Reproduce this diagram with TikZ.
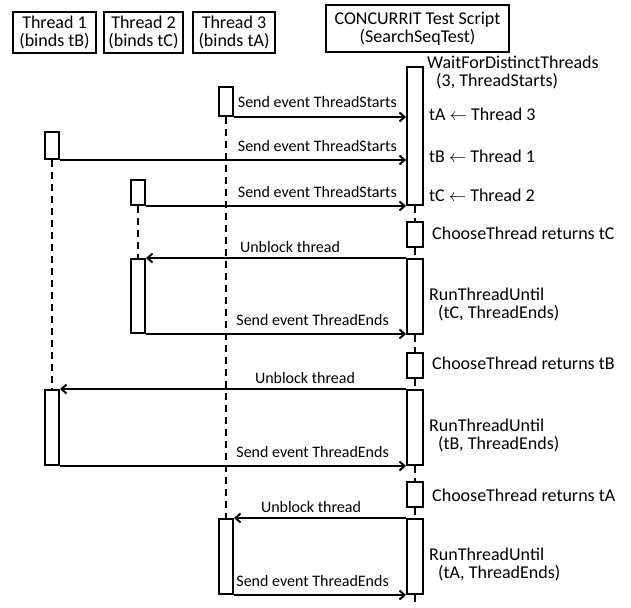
\documentclass[tikz,border=0pt]{standalone}
\usepackage{fontspec}
\setmainfont{Carlito}
\usetikzlibrary{arrows.meta, positioning}

\begin{document}
\begin{tikzpicture}[x=1pt, y=-1pt,
  head/.style={draw, line width=2pt, align=center, inner sep=0pt,
    font=\fontsize{18}{18}\selectfont},
  act/.style={draw, fill=white, line width=2pt, inner sep=0pt, minimum width=14pt},
  life/.style={line width=2pt, dash pattern=on 7pt off 5pt},
  msg/.style={line width=2pt, -{Straight Barb[length=5pt,width=9pt]}},
  lbl/.style={font=\fontsize{16}{16}\selectfont, inner sep=0pt},
  note/.style={font=\fontsize{18}{18}\selectfont, inner sep=0pt, anchor=base west, align=left}]

\useasboundingbox (0,0) rectangle (631,607);

% heads
\node[head, minimum width=83pt, minimum height=41pt] (h1) at (54.5,32.5) {Thread 1\\(binds tB)};
\node[head, minimum width=79pt, minimum height=41pt] (h2) at (143.5,32.5) {Thread 2\\(binds tC)};
\node[head, minimum width=82pt, minimum height=41pt] (h3) at (234,32.5) {Thread 3\\(binds tA)};
\node[head, minimum width=183pt, minimum height=47pt] (hs) at (417.5,28.5) {CONCURRIT Test Script\\(SearchSeqTest)};

% activations, threads
\node[act, minimum height=29pt] (t3a) at (226,101.5) {};
\node[act, minimum height=27pt] (t1a) at (52,145.5) {};
\node[act, minimum height=25pt] (t2a) at (138,192.5) {};
\node[act, minimum height=74pt] (t2b) at (138,296) {};
\node[act, minimum height=75pt] (t1b) at (52,427.5) {};
\node[act, minimum height=75pt] (t3b) at (226,556.5) {};

% activations, script
\node[act, minimum width=16pt, minimum height=138pt] (sA) at (415,136) {};
\node[act, minimum width=16pt, minimum height=25pt] (sB) at (415,234.5) {};
\node[act, minimum width=16pt, minimum height=75pt] (sC) at (415,296.5) {};
\node[act, minimum width=16pt, minimum height=25pt] (sD) at (415,365.5) {};
\node[act, minimum width=16pt, minimum height=75pt] (sE) at (415,427.5) {};
\node[act, minimum width=16pt, minimum height=25pt] (sF) at (415,494.5) {};
\node[act, minimum width=16pt, minimum height=75pt] (sG) at (415,556.5) {};
\coordinate (send) at (415,607);

% lifelines
\draw[life] (t3a.south) -- (t3b.north);
\draw[life] (t1a.south) -- (t1b.north);
\draw[life] (t2a.south) -- (t2b.north);
\draw[life] (sA.south) -- (sB.north);
\draw[life] (sB.south) -- (sC.north);
\draw[life] (sC.south) -- (sD.north);
\draw[life] (sD.south) -- (sE.north);
\draw[life] (sE.south) -- (sF.north);
\draw[life] (sF.south) -- (sG.north);
\draw[life] (sG.south) -- (send);

% messages
\draw[msg] (t3a.south east) -- (t3a.south east -| sA.west);
\draw[msg] (t1a.south east) -- (t1a.south east -| sA.west);
\draw[msg] (t2a.south east) -- (t2a.south east -| sA.west);
\draw[msg] (sC.north west) -- (sC.north west -| t2b.east);
\draw[msg] (t2b.south east) -- (t2b.south east -| sC.west);
\draw[msg] (sE.north west) -- (sE.north west -| t1b.east);
\draw[msg] (t1b.south east) -- (t1b.south east -| sE.west);
\draw[msg] (sG.north west) -- (sG.north west -| t3b.east);
\draw[msg] (t3b.south east) -- (t3b.south east -| sG.west);

\node[lbl, anchor=base east] (m1) at (397,108) {Send event ThreadStarts};
\node[lbl, anchor=base east] (m2) at (397,151) {Send event ThreadStarts};
\node[lbl, anchor=base east] (m3) at (397,197) {Send event ThreadStarts};
\node[lbl, anchor=base] (m4) at (290,252) {Unblock thread};
\node[lbl, anchor=base east] (m5) at (389,325) {Send event ThreadEnds};
\node[lbl, anchor=base] (m6) at (305,383) {Unblock thread};
\node[lbl, anchor=base east] (m7) at (389,457) {Send event ThreadEnds};
\node[lbl, anchor=base] (m8) at (311,512) {Unblock thread};
\node[lbl, anchor=base east] (m9) at (389,586) {Send event ThreadEnds};

% script notes (base = last line)
\node[note] (wait) at (427,87) {WaitForDistinctThreads\\\hspace*{9pt}(3, ThreadStarts)};
\node[note] (bindA) at (429,121) {tA $\leftarrow$ Thread 3};
\node[note] (bindB) at (429,162) {tB $\leftarrow$ Thread 1};
\node[note] (bindC) at (429,201) {tC $\leftarrow$ Thread 2};
\node[note] (chC) at (432,239) {ChooseThread returns tC};
\node[note] (runC) at (429,318) {RunThreadUntil\\\hspace*{9pt}(tC, ThreadEnds)};
\node[note] (chB) at (432,369) {ChooseThread returns tB};
\node[note] (runB) at (429,449) {RunThreadUntil\\\hspace*{9pt}(tB, ThreadEnds)};
\node[note] (chA) at (432,501) {ChooseThread returns tA};
\node[note] (runA) at (429,578) {RunThreadUntil\\\hspace*{9pt}(tA, ThreadEnds)};
\end{tikzpicture}
\end{document}
